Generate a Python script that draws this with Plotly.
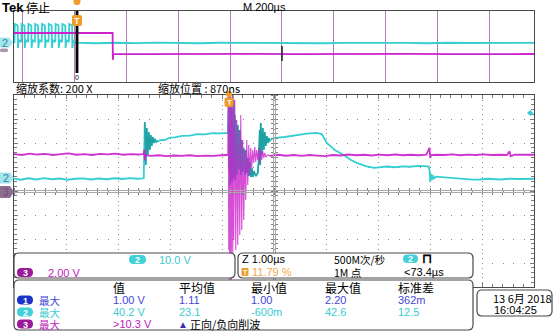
import plotly.graph_objects as go

W, H = 554, 332
LAT = "Liberation Sans, Noto Sans CJK SC, sans-serif"
CJK = "Noto Sans CJK SC, Liberation Sans, sans-serif"

CYAN = "#35cfd3"
CYAN_DARK = "#1f9a9c"
MAGENTA = "#cc22cc"
BLUE_TXT = "#4646d8"
CYAN_TXT = "#3ccbd2"
MAG_TXT = "#c020c0"
ORANGE = "#f09a28"
BORDER = "#4a4a4a"
GRID = "#8a8a8a"

# ---------------- main (zoom) window: time in µs from trigger, volts ----------------
ch2_t = [-4.13, -4.0, -3.85, -3.7, -3.55, -3.4, -3.25, -3.1, -2.95, -2.8, -2.65, -2.5, -2.35, -2.2,
         -2.05, -1.9, -1.75, -1.635,
         -1.615, -1.596, -1.577, -1.558, -1.538, -1.519, -1.5, -1.481, -1.462, -1.442, -1.423,
         -1.394, -1.365, -1.3, -1.231, -1.13, -1.038, -0.9, -0.75, -0.6, -0.462, -0.3, -0.173, -0.038,
         -0.019, 0.0, 0.01, 0.019, 0.029, 0.038, 0.048, 0.058, 0.067, 0.077, 0.087, 0.096, 0.106,
         0.115, 0.125, 0.135, 0.154, 0.173, 0.192, 0.212, 0.231, 0.25, 0.269, 0.288, 0.308, 0.327,
         0.346, 0.365, 0.385, 0.404, 0.423, 0.442, 0.462, 0.481, 0.519, 0.558, 0.577, 0.596, 0.606,
         0.615, 0.635, 0.654, 0.673, 0.692, 0.712, 0.731, 0.75, 0.769, 0.788, 0.827, 0.904, 1.077,
         1.2, 1.365, 1.5, 1.692, 1.75, 1.788, 1.885, 2.038, 2.212, 2.35, 2.462, 2.635, 2.788, 2.904,
         3.05, 3.192, 3.35, 3.481, 3.65, 3.769, 3.846, 3.865, 3.875, 3.885, 3.904, 3.923, 3.942,
         3.981, 4.058, 4.25, 4.4, 4.538, 4.7, 4.827, 5.0, 5.212, 5.4, 5.596, 5.87]
ch2_v = [0.2, -0.3, 0.3, -0.2, 0.4, -0.1, 0.2, -0.3, 0.1, 0.3, -0.2, 0.2, -0.1, 0.3,
         0.0, 0.4, 0.1, 0.3,
         23.75, 5.8, 21.25, 10.0, 19.6, 12.1, 18.3, 13.75, 17.5, 15.0, 16.7,
         15.4, 15.8, 16.3, 16.2, 17.2, 17.3, 18.0, 18.1, 18.7, 18.6, 19.1, 19.0, 19.3,
         19.2, 32.9, 3.75, 34.6, -2.5, 33.75, -0.4, 30.8, -1.25, 28.75, 0.4, 32.9, 1.67,
         26.7, -0.4, 24.6, 1.67, 22.5, 3.75, 20.4, 1.67, 16.25, 2.9, 12.9, 1.67, 12.1,
         2.5, 8.75, 1.25, 7.1, 0.83, 4.6, 0.83, 3.3, 1.25, 2.5, 7.9, 20.4, 5.8,
         23.3, 10.0, 21.25, 12.1, 19.6, 13.75, 17.9, 15.0, 17.1, 15.8, 16.7, 17.1, 17.5,
         17.9, 18.3, 18.9, 19.2, 19.0, 18.75, 15.0, 12.1, 10.0, 7.9, 6.7, 5.4, 4.6, 4.8,
         5.2, 4.9, 5.3, 5.1, 5.5, 5.4, 5.2, 2.9, -1.25, 2.1, -0.4, 1.67, 0.0,
         1.0, 0.83, 0.4, 0.1, 0.0, -0.3, -0.2, 0.1, -0.2, 0.1, 0.0, 0.1]

ch3_t = [-4.13, -3.98, -3.83, -3.68, -3.53, -3.38, -3.23, -3.08, -2.93, -2.78, -2.63, -2.48, -2.33,
         -2.18, -2.03, -1.88, -1.73, -1.64, -1.625, -1.615, -1.6, -1.5, -1.35, -1.2, -1.05, -0.9,
         -0.75, -0.6, -0.45, -0.3, -0.15, -0.02,
         -0.019, -0.01, 0.0, 0.01, 0.019, 0.038, 0.048, 0.058, 0.077, 0.087, 0.096, 0.115, 0.135,
         0.154, 0.173, 0.192, 0.212, 0.231, 0.25, 0.269, 0.288, 0.308, 0.327, 0.346, 0.365, 0.385,
         0.404, 0.423, 0.442, 0.462, 0.481, 0.5, 0.519, 0.538, 0.558, 0.577, 0.596, 0.615, 0.635,
         0.654, 0.673, 0.692, 0.712, 0.75, 0.788,
         0.95, 1.1, 1.25, 1.4, 1.55, 1.7, 1.85, 2.0, 2.15, 2.3, 2.45, 2.6, 2.75, 2.9, 3.05, 3.2,
         3.35, 3.5, 3.65, 3.8, 3.86, 3.875, 3.89, 4.0, 4.15, 4.3, 4.45, 4.6, 4.75, 4.9, 5.05, 5.2,
         5.35, 5.4, 5.42, 5.5, 5.65, 5.87]
ch3_v = [3.08, 3.0, 3.12, 3.04, 3.1, 3.0, 3.08, 3.13, 3.02, 3.08, 3.0, 3.1, 3.05,
         3.12, 3.02, 3.08, 3.04, 3.08, 3.45, 2.55, 3.0, 2.92, 2.98, 2.9, 2.96, 2.92,
         2.98, 2.9, 2.95, 2.92, 2.98, 2.95,
         3.0, 8.2, -4.92, 8.2, -8.5, 8.2, -8.5, 7.58, -5.33, 8.2, -4.08, 7.58, -4.92,
         5.92, -4.5, 5.08, -3.67, 6.33, -3.25, 4.25, -2.42, 3.42, -0.75, 4.25, 0.5, 3.83,
         1.33, 3.58, 1.92, 3.42, 2.33, 3.67, 2.42, 3.42, 2.58, 3.58, 2.33, 3.42, 2.58,
         3.33, 2.75, 3.17, 2.83, 3.0, 2.92,
         3.02, 2.94, 3.0, 2.92, 3.0, 2.95, 2.9, 3.0, 2.96, 3.04, 2.98, 3.02, 2.96, 3.03, 2.98, 3.04,
         2.98, 3.02, 2.98, 3.03, 3.6, 2.75, 3.0, 3.02, 3.0, 3.05, 2.98, 3.03, 3.0, 3.05, 3.0, 3.02,
         3.0, 3.3, 2.9, 3.02, 3.0, 3.02]

# ---------------- overview (record) window: record time in µs, volts ----------------
ov2_t = [-34.7, -32.82, -31.66, -20.46, -19.31, -16.22,
         -6.56, -5.41, 5.79, 6.95, 10.04,
         19.69, 20.85, 32.05, 33.2, 36.29,
         45.95, 47.1, 58.3, 59.46, 62.55,
         72.2, 73.36, 84.56, 85.71, 88.8,
         98.46, 99.61, 110.81, 111.97, 115.06,
         124.71, 125.87, 137.07, 138.22, 141.31,
         150.97, 152.12, 163.32, 164.48, 167.57,
         177.22, 178.38, 189.58, 190.73, 193.82,
         200, 280, 360, 440, 520, 600, 680, 760, 840, 920, 1000, 1080, 1160, 1240, 1320, 1400,
         1480, 1560, 1640, 1720, 1800, 1880, 1973]
ov2_v = [1.1, 1.1, 21.4, 19.7, -5.6, 3.4,
         1.1, 21.4, 19.7, -5.6, 3.4,
         1.1, 21.4, 19.7, -5.6, 3.4,
         1.1, 21.4, 19.7, -5.6, 3.4,
         1.1, 21.4, 19.7, -5.6, 3.4,
         1.1, 21.4, 19.7, -5.6, 3.4,
         1.1, 21.4, 19.7, -5.6, 3.4,
         1.1, 21.4, 19.7, -5.6, 3.4,
         1.1, 21.4, 19.7, -5.6, 3.4,
         0.4, -0.3, 0.3, -0.2, 0.4, 0.0, -0.3, 0.3, 0.1, -0.2, 0.3, 0.0, -0.3, 0.2, 0.4, -0.1,
         0.2, -0.3, 0.3, 0.0, -0.2, 0.3, 0.1]

ov3_t = [-34.7, 60, 150, 250, 346, 347, 349, 450, 600, 750, 900, 1050, 1200, 1350, 1500, 1650,
         1800, 1973]
ov3_v = [3.04, 3.0, 3.06, 3.02, 3.04, -3.0, -1.69, -1.72, -1.66, -1.7, -1.68, -1.72, -1.67,
         -1.7, -1.66, -1.71, -1.68, -1.69]

# ---------------- readouts ----------------
ch2_scale = "10.0 V"
ch3_scale = "2.00 V"
zoom_factor = "缩放系数: 200 X"
zoom_pos = "缩放位置 : 870ns"
timebase = "M 200µs"
zoom_tb = "Z 1.00µs"
trig_pos = "11.79 %"
sample_rate = "500M次/秒"
rec_len = "1M 点"
trig_level = "&lt;73.4µs"
meas_headers = ["值", "平均值", "最小值", "最大值", "标准差"]
meas_channels = ["1", "2", "3"]
meas_kind = ["最大", "最大", "最大"]
meas_row1 = ["1.00 V", "1.11", "1.00", "2.20", "362m"]
meas_row2 = ["40.2 V", "23.1", "-600m", "42.6", "12.5"]
meas_row3 = ["&gt;10.3 V"]
clip_note = "正向/负向削波"
date_text = ["13 6月 2018", "16:04:25"]


# ---------------- geometry helpers (pixel -> paper) ----------------
def PX(x):
    return x / W


def PY(y):
    return 1 - y / H


MAIN_X = [PX(14), PX(534)]
MAIN_Y = [PY(287), PY(95)]
OV_Y = [PY(82), PY(11)]
MAIN_XR = [-4.13, 5.87]
MAIN_YR = [-45, 35]


def window(ts, vs, lo, hi):
    idx = [i for i, t in enumerate(ts) if lo <= t <= hi]
    return [ts[i] for i in idx], [vs[i] for i in idx]


fig = go.Figure()

# graticule centre cross (tiny subplots whose mirrored ticks cross the centre lines)
fig.add_trace(go.Scatter(x=[None], y=[None], xaxis="x3", yaxis="y7", mode="lines",
                         hoverinfo="skip"))
fig.add_trace(go.Scatter(x=[None], y=[None], xaxis="x8", yaxis="y8", mode="lines",
                         hoverinfo="skip"))

# overview traces
fig.add_trace(go.Scatter(x=ov2_t, y=ov2_v, xaxis="x2", yaxis="y3", mode="lines",
                         line=dict(color=CYAN, width=1.8), hoverinfo="skip"))
fig.add_trace(go.Scatter(x=ov3_t, y=ov3_v, xaxis="x2", yaxis="y4", mode="lines",
                         line=dict(color=MAGENTA, width=1.8), hoverinfo="skip"))

# main traces
fig.add_trace(go.Scatter(x=ch2_t, y=ch2_v, xaxis="x", yaxis="y", mode="lines",
                         line=dict(color=CYAN, width=1.8), hoverinfo="skip"))
for lo, hi, wdt, op in [(-4.2, -0.019, 1.8, 0.92), (-0.019, 0.788, 1.1, 0.8),
                        (0.788, 6.0, 1.8, 0.92)]:
    tx, vy = window(ch3_t, ch3_v, lo, hi)
    fig.add_trace(go.Scatter(x=tx, y=vy, xaxis="x", yaxis="y2", mode="lines",
                             line=dict(color=MAGENTA, width=wdt), opacity=op, hoverinfo="skip"))
for lo, hi in [(-1.62, -1.36), (-0.01, 0.8)]:
    tx, vy = window(ch2_t, ch2_v, lo, hi)
    fig.add_trace(go.Scatter(x=tx, y=vy, xaxis="x", yaxis="y", mode="lines",
                             line=dict(color=CYAN_DARK, width=1.4), opacity=0.9,
                             hoverinfo="skip"))

common_off = dict(showticklabels=False, zeroline=False)
TICKC = "#7a7a7a"

layout = dict(
    width=W, height=H, autosize=False, margin=dict(l=0, r=0, t=0, b=0),
    paper_bgcolor="white", plot_bgcolor="rgba(0,0,0,0)", showlegend=False,
    xaxis=dict(domain=MAIN_X, range=MAIN_XR, anchor="y", tick0=-4.13, dtick=1,
               showgrid=True, gridcolor=GRID, griddash="1px,3.8px", gridwidth=1,
               showline=True, linecolor=BORDER, linewidth=1, mirror="ticks",
               ticks="inside", ticklen=4, tickcolor=TICKC,
               minor=dict(dtick=0.2, tick0=-4.13, ticks="inside", ticklen=3, tickcolor=TICKC,
                          showgrid=False),
               **common_off),
    yaxis=dict(domain=MAIN_Y, range=MAIN_YR, anchor="x", tick0=-5, dtick=10,
               showgrid=True, gridcolor=GRID, griddash="1px,9.4px", gridwidth=1,
               showline=True, linecolor=BORDER, linewidth=1, mirror="ticks",
               ticks="inside", ticklen=4, tickcolor=TICKC,
               minor=dict(dtick=2, tick0=-5, ticks="inside", ticklen=3, tickcolor=TICKC,
                          showgrid=False),
               **common_off),
    yaxis2=dict(overlaying="y", anchor="x", range=[-8, 8], visible=False),
    # horizontal centre line with crossing ticks
    xaxis3=dict(domain=MAIN_X, range=MAIN_XR, anchor="y7", tick0=-4.13, dtick=0.2,
                ticks="outside", ticklen=2, tickcolor=TICKC, mirror="ticks", showline=True,
                linecolor="#a8a8a8", showgrid=False, **common_off),
    yaxis7=dict(domain=[PY(191.6), PY(190.6)], range=[0, 1], anchor="x3", showgrid=False,
                showline=False, ticks="", **common_off),
    # vertical centre line with crossing ticks
    yaxis8=dict(domain=MAIN_Y, range=MAIN_YR, anchor="x8", tick0=-5, dtick=2,
                ticks="outside", ticklen=2, tickcolor=TICKC, mirror="ticks", showline=True,
                linecolor="#a8a8a8", showgrid=False, **common_off),
    xaxis8=dict(domain=[PX(273.6), PX(274.6)], range=[0, 1], anchor="y8", showgrid=False,
                showline=False, ticks="", **common_off),
    xaxis2=dict(domain=MAIN_X, range=[-34.7, 1973], anchor="y3", tick0=0, dtick=200,
                showgrid=True, gridcolor="#b07cb8", gridwidth=1, showline=True,
                linecolor=BORDER, mirror=True, ticks="", **common_off),
    yaxis3=dict(domain=OV_Y, range=[-43.94, 36.06], anchor="x2", showgrid=False,
                showline=True, linecolor=BORDER, mirror=True, ticks="", **common_off),
    yaxis4=dict(overlaying="y3", anchor="x2", range=[-8, 8], visible=False),
)
fig.update_layout(**layout)

shapes = []
ann = []


def rr_path(x0, y0, x1, y1, r):
    def p(x, y):
        return f"{PX(x):.5f},{PY(y):.5f}"
    return (f"M {p(x0 + r, y0)} L {p(x1 - r, y0)} Q {p(x1, y0)} {p(x1, y0 + r)} "
            f"L {p(x1, y1 - r)} Q {p(x1, y1)} {p(x1 - r, y1)} L {p(x0 + r, y1)} "
            f"Q {p(x0, y1)} {p(x0, y1 - r)} L {p(x0, y0 + r)} Q {p(x0, y0)} {p(x0 + r, y0)} Z")


def rbox(x0, y0, x1, y1, r, fill, line=None, lw=1.0):
    shapes.append(dict(type="path", xref="paper", yref="paper", path=rr_path(x0, y0, x1, y1, r),
                       fillcolor=fill, line=dict(color=line or fill, width=lw if line else 0),
                       layer="above"))


def poly(pts, fill, line=None):
    path = "M " + " L ".join(f"{PX(x):.5f},{PY(y):.5f}" for x, y in pts) + " Z"
    shapes.append(dict(type="path", xref="paper", yref="paper", path=path, fillcolor=fill,
                       line=dict(color=line or fill, width=1 if line else 0), layer="above"))


def txt(x, y, s, color="#000000", size=11, anchor="left", family=LAT):
    ann.append(dict(x=PX(x), y=PY(y), xref="paper", yref="paper", text=s, showarrow=False,
                    xanchor=anchor, yanchor="middle", borderpad=0,
                    font=dict(family=family, size=size, color=color)))


def pill(x0, y0, x1, y1, fill, label, color="white"):
    rbox(x0, y0, x1, y1, (y1 - y0) / 2, fill)
    txt((x0 + x1) / 2, (y0 + y1) / 2 + 0.5, f"<b>{label}</b>", color=color, size=9,
        anchor="center")


# overview: zoom-window bar, trigger marker, glitch tick
shapes.append(dict(type="rect", xref="paper", yref="paper", x0=PX(75.6), x1=PX(78.4),
                   y0=PY(73), y1=PY(11), fillcolor="#000000", line=dict(width=0), layer="above"))
shapes.append(dict(type="line", xref="paper", yref="paper", x0=PX(282), x1=PX(282),
                   y0=PY(46), y1=PY(61), line=dict(color="#202020", width=1.5), layer="above"))
shapes.append(dict(type="circle", xref="paper", yref="paper", x0=PX(73.5), x1=PX(80.5),
                   y0=PY(5), y1=PY(-2), fillcolor=ORANGE, line=dict(width=0), layer="above"))
rbox(72, 15, 82, 26, 2, ORANGE)
txt(77, 20.8, "<b>T</b>", color="white", size=9, anchor="center")
txt(77, 77, "0", color="#000000", size=7, anchor="center")

# main trigger marker
shapes.append(dict(type="circle", xref="paper", yref="paper", x0=PX(226), x1=PX(232),
                   y0=PY(97), y1=PY(91), fillcolor=ORANGE, line=dict(width=0), layer="above"))
rbox(224.5, 97.5, 233.5, 107, 2, ORANGE)
txt(229, 102.5, "<b>T</b>", color="white", size=8, anchor="center")

# channel ground tags
poly([(0, 37.5), (9, 37.5), (13, 42.5), (9, 47.5), (0, 47.5)], "#9fe6ee")
txt(5, 42.8, "2", color="#4b7d9b", size=11, anchor="center")
rbox(0, 48.5, 8, 52, 1.5, "#a898aa")
poly([(0, 172.5), (10, 172.5), (14, 178), (10, 183.5), (0, 183.5)], "#9fe6ee")
txt(5.5, 178.3, "2", color="#4b7d9b", size=11, anchor="center")
poly([(0, 186), (10, 186), (14, 192), (10, 198), (0, 198)], "#8c6e8e")
txt(5.5, 192.3, "3", color="#6e4f70", size=10, anchor="center")
poly([(527, 113), (530.5, 110), (533, 113), (530.5, 116)], CYAN)

# header texts
txt(1, 7, "<b>Tek</b>", size=13)
txt(25, 7, "停止", size=12, family=CJK)
txt(242, 7, timebase, size=11)
txt(15, 88, zoom_factor, size=11, family=CJK)
txt(157, 88, zoom_pos, size=11, family=CJK)

# readout boxes
rbox(14, 253, 235, 278, 5, "white", BORDER, 1.2)
rbox(238, 253, 473, 278, 5, "white", BORDER, 1.2)
rbox(14, 280, 473, 330, 5, "white", BORDER, 1.2)
rbox(477, 290, 552, 316, 5, "white", BORDER, 1.2)

pill(129, 255, 146, 264, "#3fd0d8", "2")
txt(158, 259.5, ch2_scale, color=CYAN_TXT, size=11)
pill(17, 268, 33, 277, "#9a189a", "3")
txt(47, 272.5, ch3_scale, color=MAG_TXT, size=11)

txt(241, 259, zoom_tb, size=11)
rbox(241.5, 268, 248.5, 276, 1, ORANGE)
txt(245, 272.3, "<b>T</b>", color="white", size=7, anchor="center")
txt(251, 272.3, trig_pos, color="#f0a848", size=11)
txt(333, 259, sample_rate, size=10.5, family=CJK)
txt(333, 272.5, rec_len, size=10.5, family=CJK)
pill(403, 254.5, 418, 263, "#3fd0d8", "2")
txt(421, 258.5, "<b>⊓</b>", size=13)
txt(403, 272, trig_level, size=11)

# measurement table
col_x = [112, 178, 250, 324, 397]
for cx, htxt in zip(col_x, meas_headers):
    txt(cx, 287.5, htxt, size=12, family=CJK)
row_y = [300, 312, 324]
pill_cols = ["#1a32c8", "#3fd0d8", "#9a189a"]
txt_cols = [BLUE_TXT, CYAN_TXT, MAG_TXT]
for ry, ch, kind, pc, tc in zip(row_y, meas_channels, meas_kind, pill_cols, txt_cols):
    pill(17, ry - 4.5, 33, ry + 4.5, pc, ch)
    txt(38, ry, kind, color=tc, size=10.5, family=CJK)
for cx, v in zip(col_x, meas_row1):
    txt(cx, row_y[0], v, color=BLUE_TXT, size=11)
for cx, v in zip(col_x, meas_row2):
    txt(cx, row_y[1], v, color=CYAN_TXT, size=11)
for cx, v in zip(col_x, meas_row3):
    txt(cx, row_y[2], v, color=MAG_TXT, size=11)
txt(177, row_y[2], "▲", color="#3a2ab8", size=10)
txt(189, row_y[2], clip_note, size=11, family=CJK)

# date box
txt(492, 298, date_text[0], size=11, family=CJK)
txt(493, 310, date_text[1], size=11)

fig.update_layout(shapes=shapes, annotations=ann)
fig.write_html("out.html")
